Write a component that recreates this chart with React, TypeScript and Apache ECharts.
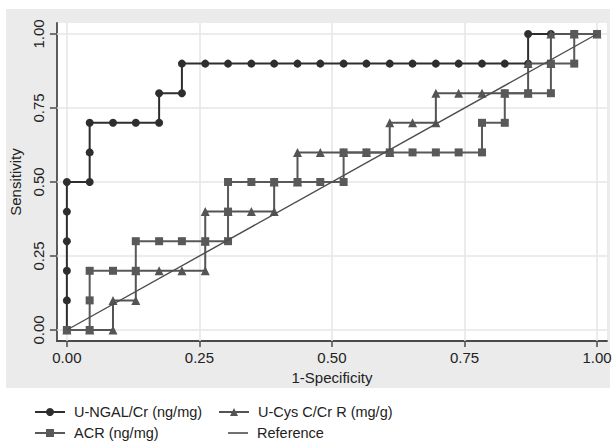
import React, { useEffect, useRef } from "react";
import * as echarts from "echarts";

// Tick positions shared by both axes
const tickValues = [0, 0.25, 0.5, 0.75, 1];

// Series names (legend order)
const nameNgal = "U-NGAL/Cr (ng/mg)";
const nameCys = "U-Cys C/Cr R (mg/g)";
const nameAcr = "ACR (ng/mg)";
const nameRef = "Reference";

// U-NGAL/Cr ROC points (1-specificity, sensitivity)
const ngalFpr = [0, 0, 0, 0, 0, 0, 0.043, 0.043, 0.043, 0.087, 0.13, 0.174, 0.174, 0.217, 0.217, 0.261, 0.304, 0.348, 0.391, 0.435, 0.478, 0.522, 0.565, 0.609, 0.652, 0.696, 0.739, 0.783, 0.826, 0.87, 0.87, 0.913, 0.957, 1];
const ngalSens = [0, 0.1, 0.2, 0.3, 0.4, 0.5, 0.5, 0.6, 0.7, 0.7, 0.7, 0.7, 0.8, 0.8, 0.9, 0.9, 0.9, 0.9, 0.9, 0.9, 0.9, 0.9, 0.9, 0.9, 0.9, 0.9, 0.9, 0.9, 0.9, 0.9, 1, 1, 1, 1];

// U-Cys C/Cr R ROC points
const cysFpr = [0, 0.043, 0.087, 0.087, 0.13, 0.13, 0.174, 0.217, 0.261, 0.261, 0.261, 0.304, 0.348, 0.391, 0.391, 0.435, 0.435, 0.478, 0.522, 0.565, 0.609, 0.609, 0.652, 0.696, 0.696, 0.739, 0.783, 0.826, 0.87, 0.87, 0.913, 0.913, 0.957, 1];
const cysSens = [0, 0, 0, 0.1, 0.1, 0.2, 0.2, 0.2, 0.2, 0.3, 0.4, 0.4, 0.4, 0.4, 0.5, 0.5, 0.6, 0.6, 0.6, 0.6, 0.6, 0.7, 0.7, 0.7, 0.8, 0.8, 0.8, 0.8, 0.8, 0.9, 0.9, 1, 1, 1];

// ACR ROC points
const acrFpr = [0, 0.043, 0.043, 0.043, 0.087, 0.13, 0.13, 0.174, 0.217, 0.261, 0.304, 0.304, 0.304, 0.348, 0.391, 0.435, 0.478, 0.522, 0.522, 0.565, 0.609, 0.652, 0.696, 0.739, 0.783, 0.783, 0.826, 0.826, 0.87, 0.913, 0.913, 0.957, 0.957, 1];
const acrSens = [0, 0, 0.1, 0.2, 0.2, 0.2, 0.3, 0.3, 0.3, 0.3, 0.3, 0.4, 0.5, 0.5, 0.5, 0.5, 0.5, 0.5, 0.6, 0.6, 0.6, 0.6, 0.6, 0.6, 0.6, 0.7, 0.7, 0.8, 0.8, 0.8, 0.9, 0.9, 1, 1];

// Reference diagonal
const refFpr = [0, 1];
const refSens = [0, 1];

export default function App() {
  const ref = useRef<HTMLDivElement>(null);

  useEffect(() => {
    if (!ref.current) return;
    const chart = echarts.init(ref.current, null, { renderer: "svg" });
    const font = "'Liberation Sans', Arial, Helvetica, sans-serif";
    const zip = (xs: number[], ys: number[]) => xs.map((x, i) => [x, ys[i]]);
    const textCol = "#222";
    const axisCol = "#4a4a4a";

    const legendText = { fontSize: 14.5, lineHeight: 16, color: textCol, fontFamily: font, padding: [0, 0, 0, 4] };
    const mkLegend = (name: string, left: number, top: number, extra: any = {}) => ({
      orient: "horizontal",
      left,
      top,
      itemWidth: 30,
      itemHeight: 10,
      selectedMode: false,
      textStyle: legendText,
      data: [name],
      ...extra,
    });

    chart.setOption({
      animation: false,
      backgroundColor: "#ffffff",
      graphic: [
        {
          type: "rect",
          z: -10,
          silent: true,
          shape: { x: 6, y: 9, width: 604, height: 379 },
          style: { fill: "#ebebeb" },
        },
      ],
      grid: {
        left: 56,
        top: 23,
        width: 551,
        height: 318,
        show: true,
        backgroundColor: "#ffffff",
        borderWidth: 0,
      },
      xAxis: {
        type: "value",
        min: -0.0188,
        max: 1.0188,
        axisLine: { show: true, onZero: false, lineStyle: { color: axisCol, width: 1.8 } },
        axisTick: { show: true, length: 6, customValues: tickValues, lineStyle: { color: axisCol, width: 1.5 } },
        axisLabel: {
          customValues: tickValues,
          formatter: (v: number) => v.toFixed(2),
          fontSize: 15,
          color: textCol,
          fontFamily: font,
          margin: 9,
        },
        splitLine: { show: false },
        name: "1-Specificity",
        nameLocation: "middle",
        nameGap: 27,
        nameTextStyle: { fontSize: 15, color: textCol, fontFamily: font },
      },
      yAxis: {
        type: "value",
        min: -0.0372,
        max: 1.0372,
        axisLine: { show: true, onZero: false, lineStyle: { color: axisCol, width: 1.8 } },
        axisTick: { show: true, length: 7, customValues: tickValues, lineStyle: { color: axisCol, width: 1.5 } },
        axisLabel: {
          customValues: tickValues,
          formatter: (v: number) => v.toFixed(2),
          rotate: 90,
          fontSize: 15,
          color: textCol,
          fontFamily: font,
          margin: 11,
        },
        splitLine: { show: false },
        name: "Sensitivity",
        nameLocation: "middle",
        nameGap: 29,
        nameTextStyle: { fontSize: 15, color: textCol, fontFamily: font },
      },
      legend: [
        mkLegend(nameNgal, 29, 399),
        mkLegend(nameAcr, 29, 420),
        mkLegend(nameCys, 213, 399),
        mkLegend(nameRef, 223, 420, {
          itemWidth: 20,
          itemHeight: 1.6,
          data: [{ name: nameRef, icon: "rect" }],
        }),
      ],
      series: [
        {
          name: "gridlines",
          type: "line",
          data: [[0, 0]],
          symbol: "none",
          lineStyle: { opacity: 0 },
          silent: true,
          z: 1,
          markLine: {
            silent: true,
            z: 1,
            symbol: "none",
            label: { show: false },
            lineStyle: { color: "#e6e6e6", width: 1.5, type: "solid" },
            data: [
              ...tickValues.map((v) => ({ xAxis: v })),
              ...tickValues.map((v) => ({ yAxis: v })),
            ],
          },
        },
        {
          name: nameNgal,
          type: "line",
          data: zip(ngalFpr, ngalSens),
          symbol: "circle",
          symbolSize: 8,
          itemStyle: { color: "#2e2e2e" },
          lineStyle: { color: "#2e2e2e", width: 2 },
          emphasis: { disabled: true },
          z: 3,
        },
        {
          name: nameCys,
          type: "line",
          data: zip(cysFpr, cysSens),
          symbol: "triangle",
          symbolSize: 9,
          itemStyle: { color: "#545454" },
          lineStyle: { color: "#545454", width: 2 },
          emphasis: { disabled: true },
          z: 4,
        },
        {
          name: nameAcr,
          type: "line",
          data: zip(acrFpr, acrSens),
          symbol: "rect",
          symbolSize: 8,
          itemStyle: { color: "#595959" },
          lineStyle: { color: "#595959", width: 2 },
          emphasis: { disabled: true },
          z: 5,
        },
        {
          name: nameRef,
          type: "line",
          data: zip(refFpr, refSens),
          symbol: "none",
          itemStyle: { color: "#4d4d4d" },
          lineStyle: { color: "#4d4d4d", width: 1.4 },
          emphasis: { disabled: true },
          z: 6,
        },
      ],
    });

    return () => chart.dispose();
  }, []);

  return (
    <div
      ref={ref}
      style={{ position: "absolute", left: 0, top: 0, width: 616, height: 443 }}
    />
  );
}
